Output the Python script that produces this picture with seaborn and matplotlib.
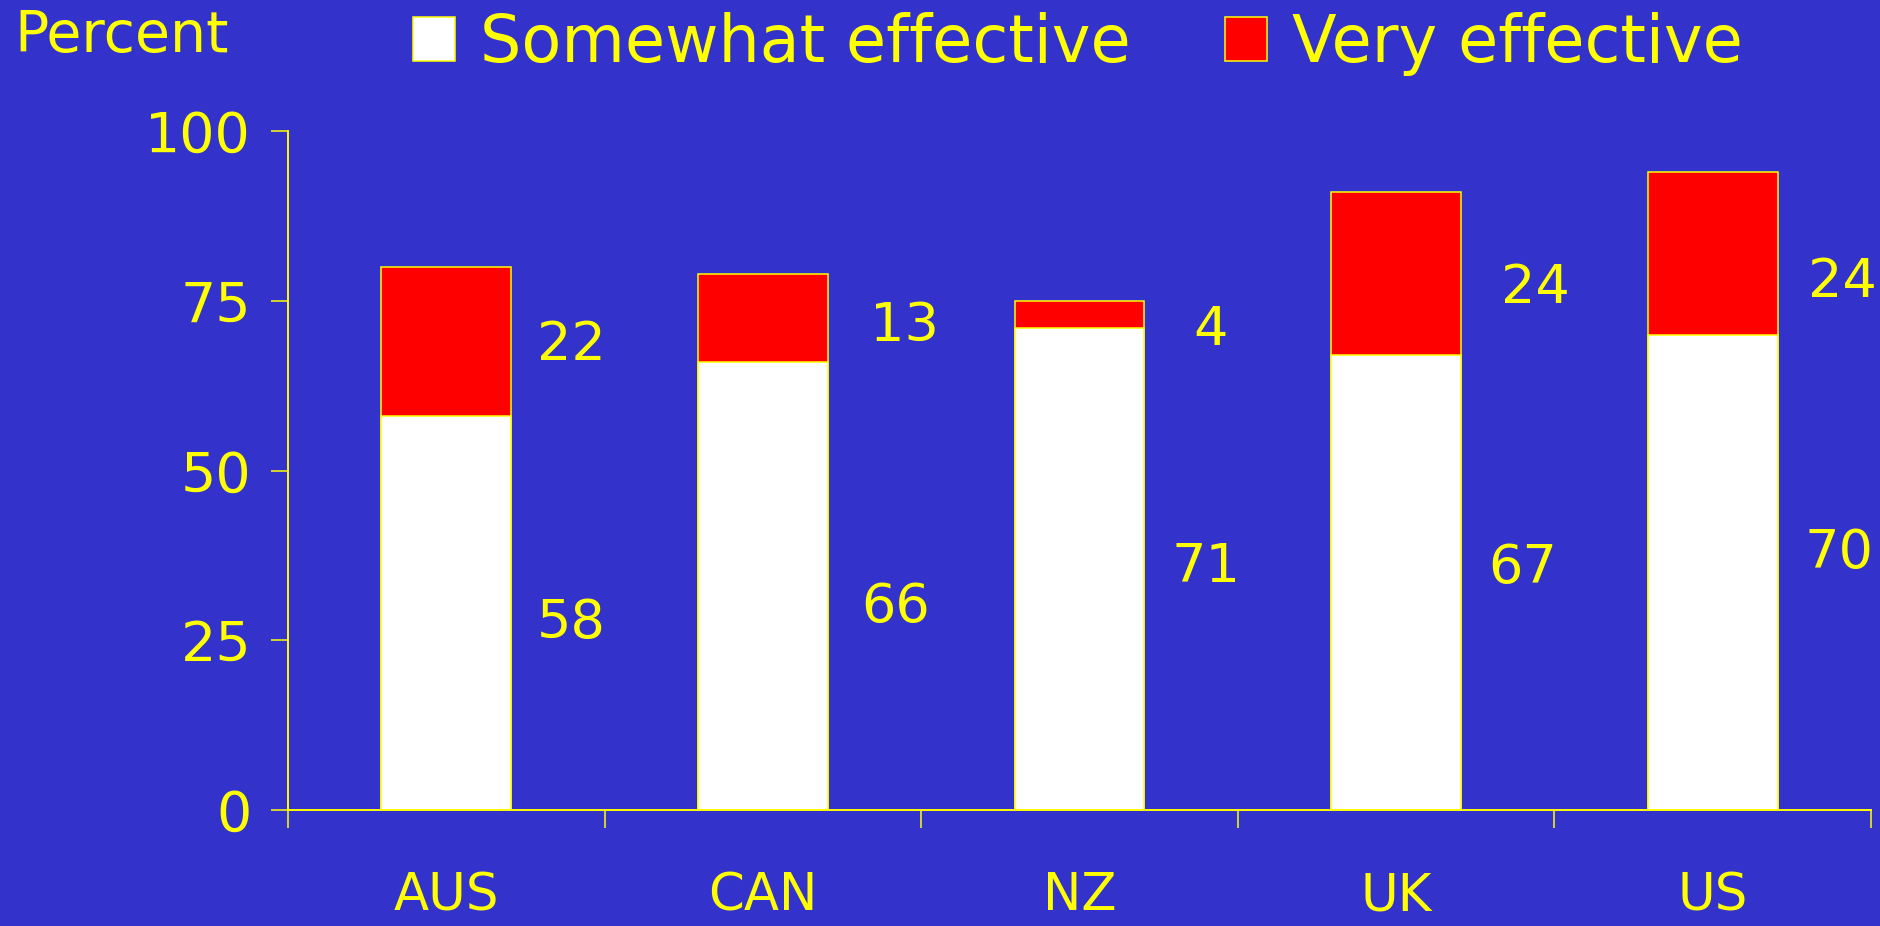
import matplotlib
matplotlib.use('Agg')
import matplotlib.pyplot as plt
import matplotlib.patches as mpatches
import pandas as pd
import seaborn as sns

# Data
countries = ['AUS', 'CAN', 'NZ', 'UK', 'US']
somewhat = [58, 66, 71, 67, 70]
very = [22, 13, 4, 24, 24]
yticks = [0, 25, 50, 75, 100]

# where the value labels sit (x in category units, y = text baseline in percent)
some_lab_x = [0.395, 1.42, 2.40, 3.40, 4.40]
some_lab_y = [25.3, 27.7, 33.6, 33.4, 35.6]
very_lab_x = [0.395, 1.448, 2.415, 3.44, 4.41]
very_lab_y = [66.3, 69.1, 68.5, 74.7, 75.6]

BG = '#3333CC'
YEL = '#FFFF00'
RED = '#FF0000'

df = pd.DataFrame({'country': countries, 'somewhat': somewhat, 'very': very})
df['total'] = df['somewhat'] + df['very']

sns.set_style('ticks', rc={'axes.facecolor': BG, 'figure.facecolor': BG})
plt.rcParams['font.family'] = ['DejaVu Sans']

fig = plt.figure(figsize=(18.81, 9.26), dpi=100)
ax = fig.add_axes([0.1531, 0.1253, 0.8416, 0.7332])

# stacked look: red totals first, white "somewhat" on top of it
sns.barplot(data=df, x='country', y='total', color=RED, saturation=1,
            width=0.41, edgecolor=YEL, linewidth=1.1, ax=ax)
sns.barplot(data=df, x='country', y='somewhat', color='white', saturation=1,
            width=0.41, edgecolor=YEL, linewidth=1.1, ax=ax)

ax.set_xlim(-0.5, len(countries) - 0.5)
ax.set_ylim(0, 100)
ax.set_yticks(yticks)
ax.set_xlabel('')
ax.set_ylabel('')

for s in ['top', 'right']:
    ax.spines[s].set_visible(False)
for s in ['left', 'bottom']:
    ax.spines[s].set_color(YEL)
    ax.spines[s].set_linewidth(1.4)

ax.tick_params(axis='y', colors=YEL, labelsize=40, length=12.5, width=1.1,
               direction='out', pad=14)
ax.tick_params(axis='x', which='major', colors=YEL, labelsize=37, length=0, pad=44)
ax.set_xticks([i - 0.5 for i in range(len(countries) + 1)], minor=True)
ax.tick_params(axis='x', which='minor', color=YEL, length=13, width=1.1,
               direction='out')

for i in range(len(countries)):
    ax.text(some_lab_x[i], some_lab_y[i], str(somewhat[i]), color=YEL,
            fontsize=39, ha='center', va='baseline')
    ax.text(very_lab_x[i], very_lab_y[i], str(very[i]), color=YEL,
            fontsize=39, ha='center', va='baseline')

fig.text(14 / 1881, 1 - 52 / 926, 'Percent', color=YEL, fontsize=41,
         ha='left', va='baseline')

handles = [mpatches.Patch(facecolor='white', edgecolor=YEL, linewidth=1.1),
           mpatches.Patch(facecolor=RED, edgecolor=YEL, linewidth=1.1)]
leg = fig.legend(handles, ['Somewhat effective', 'Very effective'], ncol=2,
                 loc='upper left', bbox_to_anchor=(413 / 1881, 1 - 12 / 926),
                 frameon=False, fontsize=47, handlelength=0.65, handleheight=0.66,
                 handletextpad=0.37, columnspacing=1.45, borderpad=0,
                 borderaxespad=0)
for t in leg.get_texts():
    t.set_color(YEL)

fig.savefig('out.png', dpi=100, facecolor=BG)
